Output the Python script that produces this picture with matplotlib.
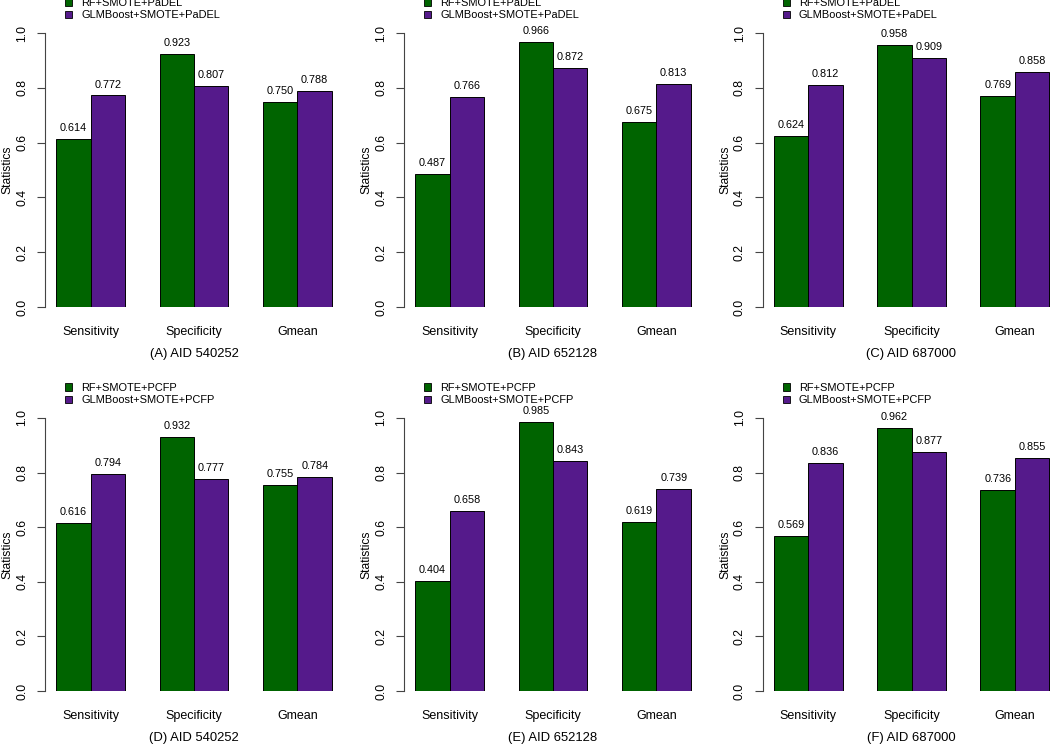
"""Grouped bar charts of RF vs GLMBoost statistics for three AIDs"""
import matplotlib
matplotlib.use("Agg")
import matplotlib.pyplot as plt

plt.rcParams["font.family"] = ["Liberation Sans", "DejaVu Sans"]

categories = ["Sensitivity", "Specificity", "Gmean"]
panel_titles = ["(A) AID 540252", "(B) AID 652128", "(C) AID 687000",
                "(D) AID 540252", "(E) AID 652128", "(F) AID 687000"]
yticks = [0.0, 0.2, 0.4, 0.6, 0.8, 1.0]

# PaDEL descriptors (top row)
rf_padel_a = [0.614, 0.923, 0.750]
glm_padel_a = [0.772, 0.807, 0.788]
rf_padel_b = [0.487, 0.966, 0.675]
glm_padel_b = [0.766, 0.872, 0.813]
rf_padel_c = [0.624, 0.958, 0.769]
glm_padel_c = [0.812, 0.909, 0.858]

# PCFP fingerprints (bottom row)
rf_pcfp_d = [0.616, 0.932, 0.755]
glm_pcfp_d = [0.794, 0.777, 0.784]
rf_pcfp_e = [0.404, 0.985, 0.619]
glm_pcfp_e = [0.658, 0.843, 0.739]
rf_pcfp_f = [0.569, 0.962, 0.736]
glm_pcfp_f = [0.836, 0.877, 0.855]

GREEN = "#006400"
PURPLE = "#551A8B"
W, H = 1050, 745


def draw_panel(fig, left, top, bottom, rf, glm, names, title):
    """Draw one R-style barplot panel, positions given in pixels"""
    ax = fig.add_axes([left / W, 1 - bottom / H, 298 / W, (bottom - top) / H])
    for i, (a, b) in enumerate(zip(rf, glm)):
        x0 = 1 + 3 * i
        ax.bar(x0 + 0.5, a, width=1, color=GREEN, edgecolor="black", linewidth=0.7)
        ax.bar(x0 + 1.5, b, width=1, color=PURPLE, edgecolor="black", linewidth=0.7)
        ax.text(x0 + 0.5, a + 0.04, f"{a:.3f}", ha="center", va="center", fontsize=7.8)
        ax.text(x0 + 1.5, b + 0.04, f"{b:.3f}", ha="center", va="center", fontsize=7.8)
    ax.set_xlim(0.68, 9.32)
    ax.set_ylim(0, 1)
    for side in ["top", "right", "bottom"]:
        ax.spines[side].set_visible(False)
    ax.spines["left"].set_color("#444444")
    ax.spines["left"].set_linewidth(0.8)
    ax.set_xticks([2, 5, 8])
    ax.set_xticklabels(categories, fontsize=9)
    ax.tick_params(axis="x", length=0, pad=13.5)
    ax.set_yticks(yticks)
    ax.set_yticklabels([f"{t:.1f}" for t in yticks], rotation=90, va="center", fontsize=8.7)
    ax.tick_params(axis="y", length=6, width=0.8, color="#444444", pad=6)
    ax.set_xlabel(title, fontsize=9.4, labelpad=7.5)
    ax.set_ylabel("Statistics", fontsize=8.7, labelpad=2)
    handles = [plt.Rectangle((0, 0), 1, 1, facecolor=GREEN, edgecolor="black", linewidth=0.6),
               plt.Rectangle((0, 0), 1, 1, facecolor=PURPLE, edgecolor="black", linewidth=0.6)]
    ax.legend(handles, names, loc="upper left", frameon=False, fontsize=7.9,
              handlelength=0.65, handleheight=0.65, handletextpad=0.85,
              labelspacing=0.2, borderpad=0, borderaxespad=0,
              bbox_to_anchor=((left + 20) / W, 1 - (top - 35) / H),
              bbox_transform=fig.transFigure)
    return ax


def main():
    """Build the 2x3 grid of panels and save it"""
    fig = plt.figure(figsize=(10.5, 7.45), dpi=100)
    lefts = [45, 404, 762.5]
    padel_names = ["RF+SMOTE+PaDEL", "GLMBoost+SMOTE+PaDEL"]
    pcfp_names = ["RF+SMOTE+PCFP", "GLMBoost+SMOTE+PCFP"]
    top_rf = [rf_padel_a, rf_padel_b, rf_padel_c]
    top_glm = [glm_padel_a, glm_padel_b, glm_padel_c]
    bot_rf = [rf_pcfp_d, rf_pcfp_e, rf_pcfp_f]
    bot_glm = [glm_pcfp_d, glm_pcfp_e, glm_pcfp_f]
    for c in range(3):
        draw_panel(fig, lefts[c], 33, 307, top_rf[c], top_glm[c],
                   padel_names, panel_titles[c])
        draw_panel(fig, lefts[c], 418, 691, bot_rf[c], bot_glm[c],
                   pcfp_names, panel_titles[c + 3])
    fig.savefig("out.png", dpi=100)


if __name__ == "__main__":
    main()
